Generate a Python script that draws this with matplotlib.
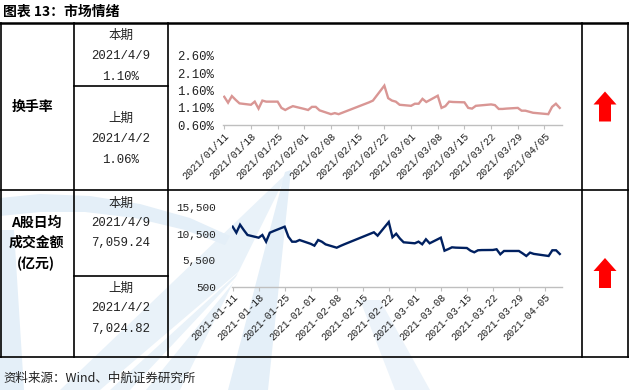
import matplotlib
matplotlib.use("Agg")
import matplotlib.pyplot as plt
import matplotlib.dates as mdates
from matplotlib.patches import Polygon
from matplotlib.ticker import FuncFormatter, FixedLocator
import numpy as np
import pandas as pd

# ---------------- data ----------------
trade_dates = [
    "2021-01-11", "2021-01-12", "2021-01-13", "2021-01-14", "2021-01-15",
    "2021-01-18", "2021-01-19", "2021-01-20", "2021-01-21", "2021-01-22",
    "2021-01-25", "2021-01-26", "2021-01-27", "2021-01-28", "2021-01-29",
    "2021-02-01", "2021-02-02", "2021-02-03", "2021-02-04", "2021-02-05",
    "2021-02-08", "2021-02-09", "2021-02-10", "2021-02-18", "2021-02-19",
    "2021-02-22", "2021-02-23", "2021-02-24", "2021-02-25", "2021-02-26",
    "2021-03-01", "2021-03-02", "2021-03-03", "2021-03-04", "2021-03-05",
    "2021-03-08", "2021-03-09", "2021-03-10", "2021-03-11", "2021-03-12",
    "2021-03-15", "2021-03-16", "2021-03-17", "2021-03-18", "2021-03-19",
    "2021-03-22", "2021-03-23", "2021-03-24", "2021-03-25", "2021-03-26",
    "2021-03-29", "2021-03-30", "2021-03-31", "2021-04-01", "2021-04-02",
    "2021-04-06", "2021-04-07", "2021-04-08", "2021-04-09",
]

turnover_pct = [
    1.42, 1.25, 1.44, 1.33, 1.23,
    1.19, 1.28, 1.08, 1.31, 1.28,
    1.28, 1.10, 1.04, 1.10, 1.15,
    1.07, 1.04, 1.13, 1.13, 1.03,
    0.92, 0.95, 0.92, 1.26, 1.31,
    1.74, 1.38, 1.31, 1.28, 1.19,
    1.16, 1.22, 1.22, 1.36, 1.27,
    1.45, 1.10, 1.15, 1.28, 1.27,
    1.26, 1.10, 1.08, 1.16, 1.17,
    1.20, 1.18, 1.07, 1.07, 1.08,
    1.10, 1.02, 1.02, 0.99, 0.96,
    0.92, 1.13, 1.22, 1.10,
]

amount_yi = [
    11840, 10700, 12210, 11200, 10270,
    9760, 10270, 9000, 10700, 11000,
    11840, 9950, 9000, 9000, 9320,
    8600, 8250, 9320, 9000, 8500,
    7870, 8200, 8500, 10780, 10140,
    12720, 9840, 10510, 9600, 8890,
    8700, 9010, 8510, 9460, 8700,
    9760, 7300, 7600, 7940, 7880,
    7810, 7300, 7000, 7380, 7420,
    7440, 7570, 6620, 7250, 7250,
    7250, 6800, 6300, 6940, 6700,
    6300, 7380, 7380, 6680,
]

tick_dates = ["2021-01-11", "2021-01-18", "2021-01-25", "2021-02-01", "2021-02-08",
              "2021-02-15", "2021-02-22", "2021-03-01", "2021-03-08", "2021-03-15",
              "2021-03-22", "2021-03-29", "2021-04-05"]
turnover_yticks = [0.60, 1.10, 1.60, 2.10, 2.60]
amount_yticks = [500, 5500, 10500, 15500]

title_text = "图表 13：市场情绪"
source_text = "资料来源：Wind、中航证券研究所"
row1_label = "换手率"
row2_label = ["A股日均", "成交金额", "(亿元)"]
row1_cur = ["本期", "2021/4/9", "1.10%"]
row1_prev = ["上期", "2021/4/2", "1.06%"]
row2_cur = ["本期", "2021/4/9", "7,059.24"]
row2_prev = ["上期", "2021/4/2", "7,024.82"]

# ---------------- figure ----------------
W, H = 629, 390
fig = plt.figure(figsize=(W / 100, H / 100), dpi=100)
fig.patch.set_facecolor("white")

CJK = ["Noto Sans CJK SC", "DejaVu Sans"]
MONO = ["Liberation Mono", "Noto Sans CJK SC"]


def fx(x):
    return x / W


def fy(y):
    return 1 - y / H


def poly(points, **kw):
    p = Polygon([(fx(x), fy(y)) for x, y in points], closed=True,
                transform=fig.transFigure, **kw)
    fig.add_artist(p)
    return p


def hline(y, x0, x1, lw=1.2, color="black"):
    fig.add_artist(plt.Line2D([fx(x0), fx(x1)], [fy(y), fy(y)],
                              transform=fig.transFigure, color=color, lw=lw, zorder=5))


def vline(x, y0, y1, lw=1.2, color="black"):
    fig.add_artist(plt.Line2D([fx(x), fx(x)], [fy(y0), fy(y1)],
                              transform=fig.transFigure, color=color, lw=lw, zorder=5))


def txt(x, y, s, size=9, family=CJK, weight="normal", ha="center", color="black", **kw):
    fig.text(fx(x), fy(y), s, fontsize=size, family=family, weight=weight,
             ha=ha, va="center", color=color, **kw)


# watermark (light blue swooshes)
wm = "#E4EFF8"
poly([(291, 170), (285, 172), (228, 390), (268, 390)], color=wm, zorder=0, lw=0)
poly([(288, 172), (60, 390), (180, 390)], color=wm, zorder=0, lw=0, alpha=0.8)
poly([(250, 262), (130, 390), (146, 390)], color="white", zorder=0.1, lw=0)
poly([(250, 262), (100, 390), (110, 390)], color="white", zorder=0.1, lw=0)
poly([(0, 198), (40, 194), (90, 196), (140, 204), (190, 218), (230, 236),
      (225, 245), (185, 230), (135, 218), (85, 212), (40, 212), (0, 216)],
     color=wm, zorder=0, lw=0)
poly([(0, 230), (14, 230), (24, 390), (0, 390)], color=wm, zorder=0, lw=0)
poly([(360, 300), (380, 300), (430, 390), (395, 390)], color=wm, zorder=0, lw=0, alpha=0.7)

# table lines
hline(23, 0, 629, lw=1.8)
hline(190, 0, 629)
hline(357, 0, 629)
hline(86, 74, 168)
hline(276, 74, 168)
for xv in (0.7, 74, 168, 582, 628.3):
    vline(xv, 23, 357)

# title and source
txt(3, 12, title_text, size=10, weight="bold", ha="left")
txt(3, 378, source_text, size=9, ha="left", style="italic", color="#222222")

# row labels
txt(32, 107, row1_label, size=10, weight="bold")
for s, y in zip(row2_label, (223, 243, 264)):
    txt(36, y, s, size=10, weight="bold")

# current / previous columns
for block, ys in ((row1_cur, (35, 56, 77)), (row1_prev, (118, 139, 160)),
                  (row2_cur, (203, 223, 243)), (row2_prev, (288, 308, 329))):
    txt(121, ys[0], block[0], size=9, color="#222222")
    txt(121, ys[1], block[1], size=8.9, family=MONO, color="#222222")
    txt(121, ys[2], block[2], size=8.9, family=MONO, color="#222222")

# red up arrows
def up_arrow(cx, ytip, ybot):
    hw, sw, hh = 11.5, 6, 13
    poly([(cx, ytip), (cx + hw, ytip + hh), (cx + sw, ytip + hh), (cx + sw, ybot),
          (cx - sw, ybot), (cx - sw, ytip + hh), (cx - hw, ytip + hh)],
         color="#FF0000", lw=0, zorder=6)

up_arrow(605, 91.5, 121.5)
up_arrow(605, 258, 288)

# ---------------- charts ----------------
dates = pd.to_datetime(trade_dates)
tdates = pd.to_datetime(tick_dates)
d0 = pd.Timestamp("2021-01-11")


def setup_axis(ax, yticks, ylim, yfmt, yfs, xfmt, ypad):
    ax.set_facecolor("none")
    for s in ("top", "right", "left"):
        ax.spines[s].set_visible(False)
    ax.spines["bottom"].set_color("#BFBFBF")
    ax.spines["bottom"].set_linewidth(1.0)
    ax.set_ylim(*ylim)
    ax.set_yticks(yticks)
    ax.yaxis.set_major_formatter(FuncFormatter(yfmt))
    ax.tick_params(axis="y", length=0, pad=ypad, labelsize=yfs, labelcolor="#222222")
    ax.xaxis.set_major_locator(FixedLocator(mdates.date2num(tdates)))
    ax.xaxis.set_major_formatter(mdates.DateFormatter(xfmt))
    ax.tick_params(axis="x", length=3, width=0.8, color="#BFBFBF", pad=1,
                   labelsize=7.4, labelcolor="#222222")
    for lab in ax.get_xticklabels() + ax.get_yticklabels():
        lab.set_family(["Liberation Mono", "DejaVu Sans Mono"])
    for lab in ax.get_xticklabels():
        lab.set_rotation(45)
        lab.set_ha("right")
        lab.set_rotation_mode("anchor")


# turnover chart
x0, x1, yb, yt = 223.3, 562, 125.3, 55.7
ax1 = fig.add_axes([fx(x0), fy(yb), fx(x1) - fx(x0), fy(yt) - fy(yb)])
ax1.plot(dates, turnover_pct, color="#D99694", lw=1.7, solid_joinstyle="miter")
ax1.set_xlim(mdates.date2num(d0) - 0.25, mdates.date2num(d0) + 88.6)
setup_axis(ax1, turnover_yticks, (0.6, 2.6), lambda v, p: f"{v:.2f}%", 8.8,
           "%Y/%m/%d", 6.5)

# amount chart
x0, x1, yb, yt = 231.7, 562, 286.7, 207.3
ax2 = fig.add_axes([fx(x0), fy(yb), fx(x1) - fx(x0), fy(yt) - fy(yb)])
ax2.plot(dates, amount_yi, color="#002060", lw=1.7, solid_joinstyle="miter")
ax2.set_xlim(mdates.date2num(d0) - 0.25, mdates.date2num(d0) + 88.6)
setup_axis(ax2, amount_yticks, (500, 15500), lambda v, p: f"{v:,.0f}", 8.0,
           "%Y-%m-%d", 11.5)

fig.savefig("out.png", dpi=100, facecolor="white")
